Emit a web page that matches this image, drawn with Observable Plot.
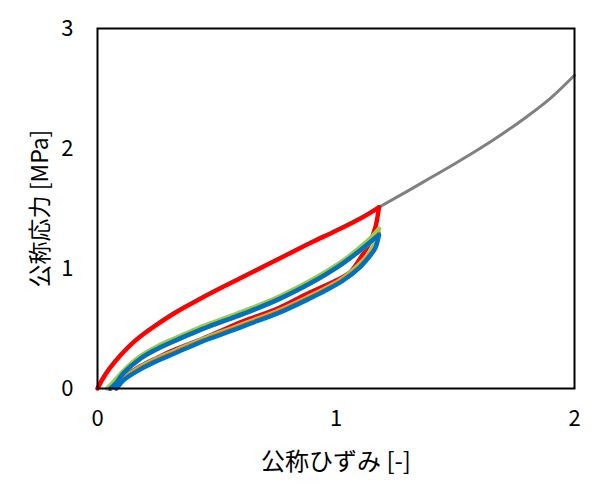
<!DOCTYPE html>
<html><head><meta charset="utf-8">
<script src="https://cdn.jsdelivr.net/npm/d3@7"></script>
<script src="https://cdn.jsdelivr.net/npm/@observablehq/plot@0.6"></script>
<style>body{margin:0;background:#fff}</style>
</head><body><div id="chart"></div>
<script>
const xTicks = [0, 1, 2];
const yTicks = [0, 1, 2, 3];
const xLabel = "公称ひずみ [-]";
const yLabel = "公称応力 [MPa]";

// Red: first cycle, loading then unloading
const redLoad = [[0,0],[0.02,0.075],[0.05,0.165],[0.10,0.285],[0.15,0.385],[0.20,0.465],[0.25,0.535],[0.30,0.60],[0.35,0.66],[0.40,0.715],[0.50,0.82],[0.60,0.92],[0.70,1.02],[0.80,1.12],[0.90,1.22],[1.00,1.315],[1.10,1.415],[1.18,1.51]];
const redUnload = [[1.18,1.51],[1.166,1.35],[1.14,1.21],[1.10,1.08],[1.06,0.97],[1.00,0.90],[0.89,0.80],[0.76,0.67],[0.61,0.56],[0.47,0.44],[0.39,0.375],[0.32,0.32],[0.25,0.255],[0.18,0.185],[0.11,0.095],[0.07,0.04],[0.05,0]];
// Green cycle
const greenLoad = [[0.04,0],[0.07,0.06],[0.11,0.15],[0.18,0.27],[0.25,0.35],[0.32,0.415],[0.39,0.475],[0.47,0.54],[0.56,0.605],[0.64,0.665],[0.76,0.765],[0.89,0.895],[0.96,0.975],[1.03,1.065],[1.10,1.175],[1.14,1.245],[1.18,1.33]];
const greenUnload = [[1.18,1.33],[1.165,1.22],[1.14,1.13],[1.10,1.04],[1.03,0.92],[0.96,0.84],[0.89,0.77],[0.76,0.65],[0.64,0.56],[0.56,0.50],[0.47,0.435],[0.39,0.37],[0.32,0.31],[0.25,0.25],[0.18,0.18],[0.11,0.085],[0.075,0]];
// Orange cycle
const orangeLoad = [[0.055,0],[0.08,0.048],[0.11,0.125],[0.18,0.245],[0.25,0.325],[0.32,0.39],[0.39,0.45],[0.47,0.515],[0.56,0.58],[0.64,0.64],[0.76,0.74],[0.89,0.87],[0.96,0.95],[1.03,1.04],[1.10,1.145],[1.14,1.21],[1.18,1.29]];
const orangeUnload = [[1.18,1.29],[1.165,1.18],[1.14,1.11],[1.10,1.02],[1.03,0.91],[0.96,0.83],[0.89,0.76],[0.76,0.64],[0.64,0.55],[0.56,0.49],[0.47,0.425],[0.39,0.36],[0.32,0.30],[0.25,0.24],[0.18,0.17],[0.11,0.078],[0.078,0]];
// Blue cycle
const blueLoad = [[0.055,0],[0.08,0.05],[0.11,0.13],[0.18,0.25],[0.25,0.33],[0.32,0.395],[0.39,0.455],[0.47,0.52],[0.56,0.585],[0.64,0.645],[0.76,0.745],[0.89,0.875],[0.96,0.955],[1.03,1.045],[1.10,1.15],[1.14,1.215],[1.18,1.28]];
const blueUnload = [[1.18,1.28],[1.165,1.17],[1.14,1.10],[1.10,1.01],[1.03,0.90],[0.96,0.82],[0.89,0.75],[0.76,0.63],[0.64,0.54],[0.56,0.48],[0.47,0.415],[0.39,0.35],[0.32,0.29],[0.25,0.23],[0.18,0.16],[0.11,0.07],[0.08,0]];
// Gray: continued loading
const grayLoad = [[1.18,1.51],[1.30,1.645],[1.40,1.76],[1.50,1.875],[1.60,1.995],[1.70,2.125],[1.80,2.265],[1.90,2.42],[2.00,2.61]];

const C = {red:"#FF0000", green:"#92D050", orange:"#ED7D31", blue:"#0070C0", gray:"#808080"};
const ln = (data, stroke, w) => Plot.line(data, {x: d => d[0], y: d => d[1], stroke, strokeWidth: w, curve: "catmull-rom", strokeLinejoin: "round", strokeLinecap: "round"});

const chart = Plot.plot({
  width: 600, height: 500,
  marginLeft: 97, marginRight: 26, marginTop: 28, marginBottom: 112,
  style: {fontFamily: '"Noto Sans CJK JP", "Open Sans", sans-serif', background: "white", color: "black"},
  x: {domain: [0, 2]},
  y: {domain: [0, 3]},
  marks: [
    Plot.axisX({ticks: xTicks, tickSize: 0, tickPadding: 22, fontSize: 22, label: null, tickFormat: d => String(d)}),
    Plot.axisY({ticks: yTicks, tickSize: 0, tickPadding: 24, fontSize: 22, label: null, tickFormat: d => String(d)}),
    ln(grayLoad, C.gray, 3),
    ln(redLoad, C.red, 4.5),
    ln(redUnload, C.red, 4.5),
    ln(greenLoad, C.green, 4.5),
    ln(greenUnload, C.green, 4.5),
    ln(orangeLoad, C.orange, 4),
    ln(orangeUnload, C.orange, 4),
    ln(blueLoad, C.blue, 4.5),
    ln(blueUnload, C.blue, 4.5),
    Plot.frame({stroke: "black", strokeWidth: 2}),
    Plot.text([xLabel], {text: d => d, frameAnchor: "bottom", lineAnchor: "middle", textAnchor: "middle", dy: 74, fontSize: 24}),
    Plot.text([yLabel], {text: d => d, frameAnchor: "left", lineAnchor: "middle", textAnchor: "middle", dx: -57, rotate: -90, fontSize: 23})
  ]
});
document.getElementById("chart").appendChild(chart);
</script>
</body></html>
